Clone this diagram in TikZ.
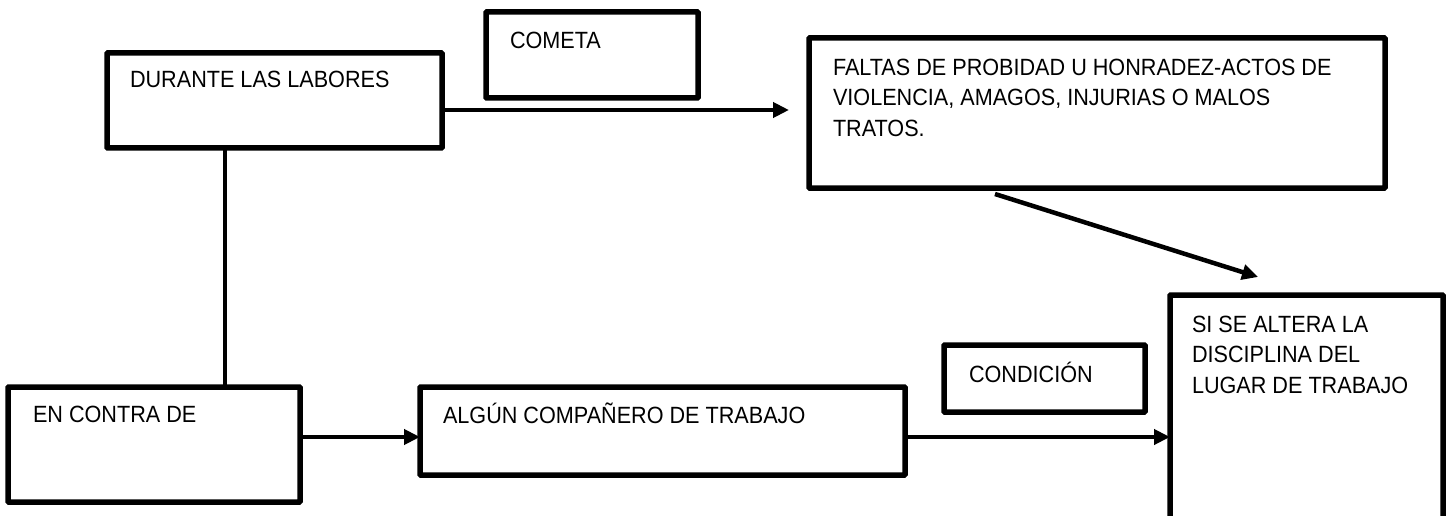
\documentclass[tikz,border=0pt]{standalone}
\usepackage{fontspec}
\setmainfont{Liberation Sans}[FakeStretch=0.92]
\usetikzlibrary{arrows.meta}
\begin{document}
\begin{tikzpicture}[x=1pt,y=-1pt,
  boxnode/.style={draw=black, line width=5.5pt, inner sep=0pt, outer sep=0pt, anchor=north west, rounded corners=0.8pt},
  txt/.style={inner sep=0pt, outer sep=0pt, anchor=base west, align=left, font=\fontsize{23.5}{30.5}\selectfont},
  arr/.style={line width=4.5pt, -{Triangle[length=16pt,width=15pt]}},
  plain/.style={line width=4.5pt}]
\useasboundingbox (0,0) rectangle (1451,516);
\clip (0,0) rectangle (1451,516);
% boxes
\node[boxnode, minimum width=335pt, minimum height=95pt] (dur) at (107,53) {};
\node[boxnode, minimum width=212pt, minimum height=86pt] (com) at (486,12) {};
\node[boxnode, minimum width=576pt, minimum height=150pt] (fal) at (809,38) {};
\node[boxnode, minimum width=273pt, minimum height=235pt] (si) at (1170,295) {};
\node[boxnode, minimum width=201pt, minimum height=67pt] (cond) at (944,345) {};
\node[boxnode, minimum width=485pt, minimum height=88pt] (alg) at (420,387) {};
\node[boxnode, minimum width=292pt, minimum height=115pt] (enc) at (8,387) {};
% texts (base = baseline of the last line)
\node[txt] (tdur) at (130,88) {DURANTE LAS LABORES};
\node[txt] (tcom) at (510,49) {COMETA};
\node[txt] (tfal) at (833,136) {FALTAS DE PROBIDAD U HONRADEZ-ACTOS DE\\VIOLENCIA, AMAGOS, INJURIAS O MALOS\\TRATOS.};
\node[txt] (tsi) at (1192,393) {SI SE ALTERA LA\\DISCIPLINA DEL\\LUGAR DE TRABAJO};
\node[txt] (tcond) at (969,382) {CONDICIÓN};
\node[txt] (talg) at (443,423) {ALGÚN COMPAÑERO DE TRABAJO};
\node[txt] (tenc) at (33,422) {EN CONTRA DE};
% connectors
\draw[arr] ([yshift=-9.5pt]dur.east) -- ([xshift=-20pt,yshift=3pt]fal.west);
\draw[plain] ([xshift=-49.5pt]dur.south) -- ([xshift=71pt]enc.north);
\draw[arr] ([yshift=7.5pt]enc.east) -- ([yshift=-6pt]alg.west);
\draw[arr] ([yshift=-6pt]alg.east) -- ([yshift=-24.5pt]si.west);
\draw[arr] ([xshift=-102pt,yshift=-6pt]fal.south) -- ([xshift=-48.5pt,yshift=18pt]si.north);
\end{tikzpicture}
\end{document}
